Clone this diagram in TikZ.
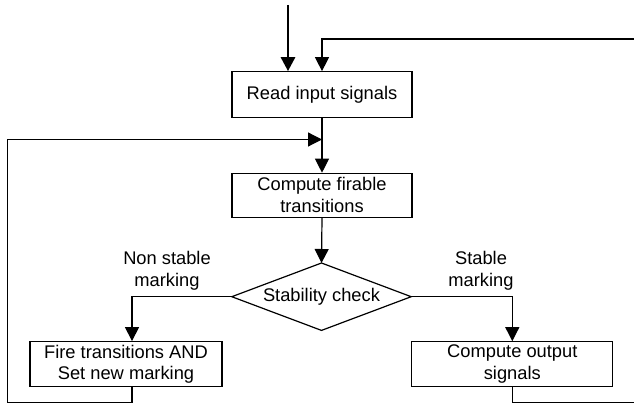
\documentclass[tikz,border=0pt]{standalone}
\usepackage{fontspec}
\setmainfont{Liberation Sans}
\usetikzlibrary{arrows.meta}
\begin{document}
\begin{tikzpicture}[x=1pt,y=-1pt,
  txt/.style={font=\fontsize{18.3}{21.7}\selectfont},
  box/.style={txt, draw, line width=1.2pt, inner sep=0pt, align=center},
  lbl/.style={txt, align=center, inner sep=0pt},
  conn/.style={line width=1.2pt},
  arr/.style={conn, -{Triangle[length=14pt,width=14pt]}},
  ]
\useasboundingbox (0,0) rectangle (634,403);
% nodes
\node[box, minimum width=180pt, minimum height=45.5pt] (read) at (322,94.5) {Read input signals};
\node[box, minimum width=180pt, minimum height=44pt] (comp) at (322,195.3) {Compute firable\\transitions};
\node[txt, minimum width=179pt, minimum height=67pt, inner sep=0pt] (chk) at (321.5,296.7) {Stability check};
\draw[line width=1.2pt, line join=miter] (chk.north) -- (chk.east) -- (chk.south) -- (chk.west) -- cycle;
\node[box, minimum width=192pt, minimum height=45pt] (fire) at (126,364.2) {Fire transitions AND\\Set new marking};
\node[box, minimum width=201pt, minimum height=44.5pt] (out) at (512.3,364) {Compute output\\signals};
\node[lbl] (lns) at (167,271) {Non stable\\marking};
\node[lbl] (ls) at (481,271) {Stable\\marking};
% coordinates
\coordinate (in) at (288,5);
\coordinate (tr) at (634,39);
\coordinate (bl) at (7.5,402.3);
\coordinate (br) at (634,402.3);
\coordinate (mj) at (322,139.5);
% connectors
\draw[arr, line width=2.8pt] (in) -- (in |- read.north);
\draw[arr] (tr) -| (read.north -| 322,0);
\draw[arr] (read.south) -- (comp.north);
\draw[arr] (comp.south) -- (chk.north);
\draw[arr] (chk.west) -| ([xshift=6pt]fire.north);
\draw[arr] (chk.east) -| (out.north);
\draw[arr] ([xshift=6pt]fire.south) |- (bl) |- (mj);
\draw[conn] (out.south) |- (br);
\end{tikzpicture}
\end{document}
